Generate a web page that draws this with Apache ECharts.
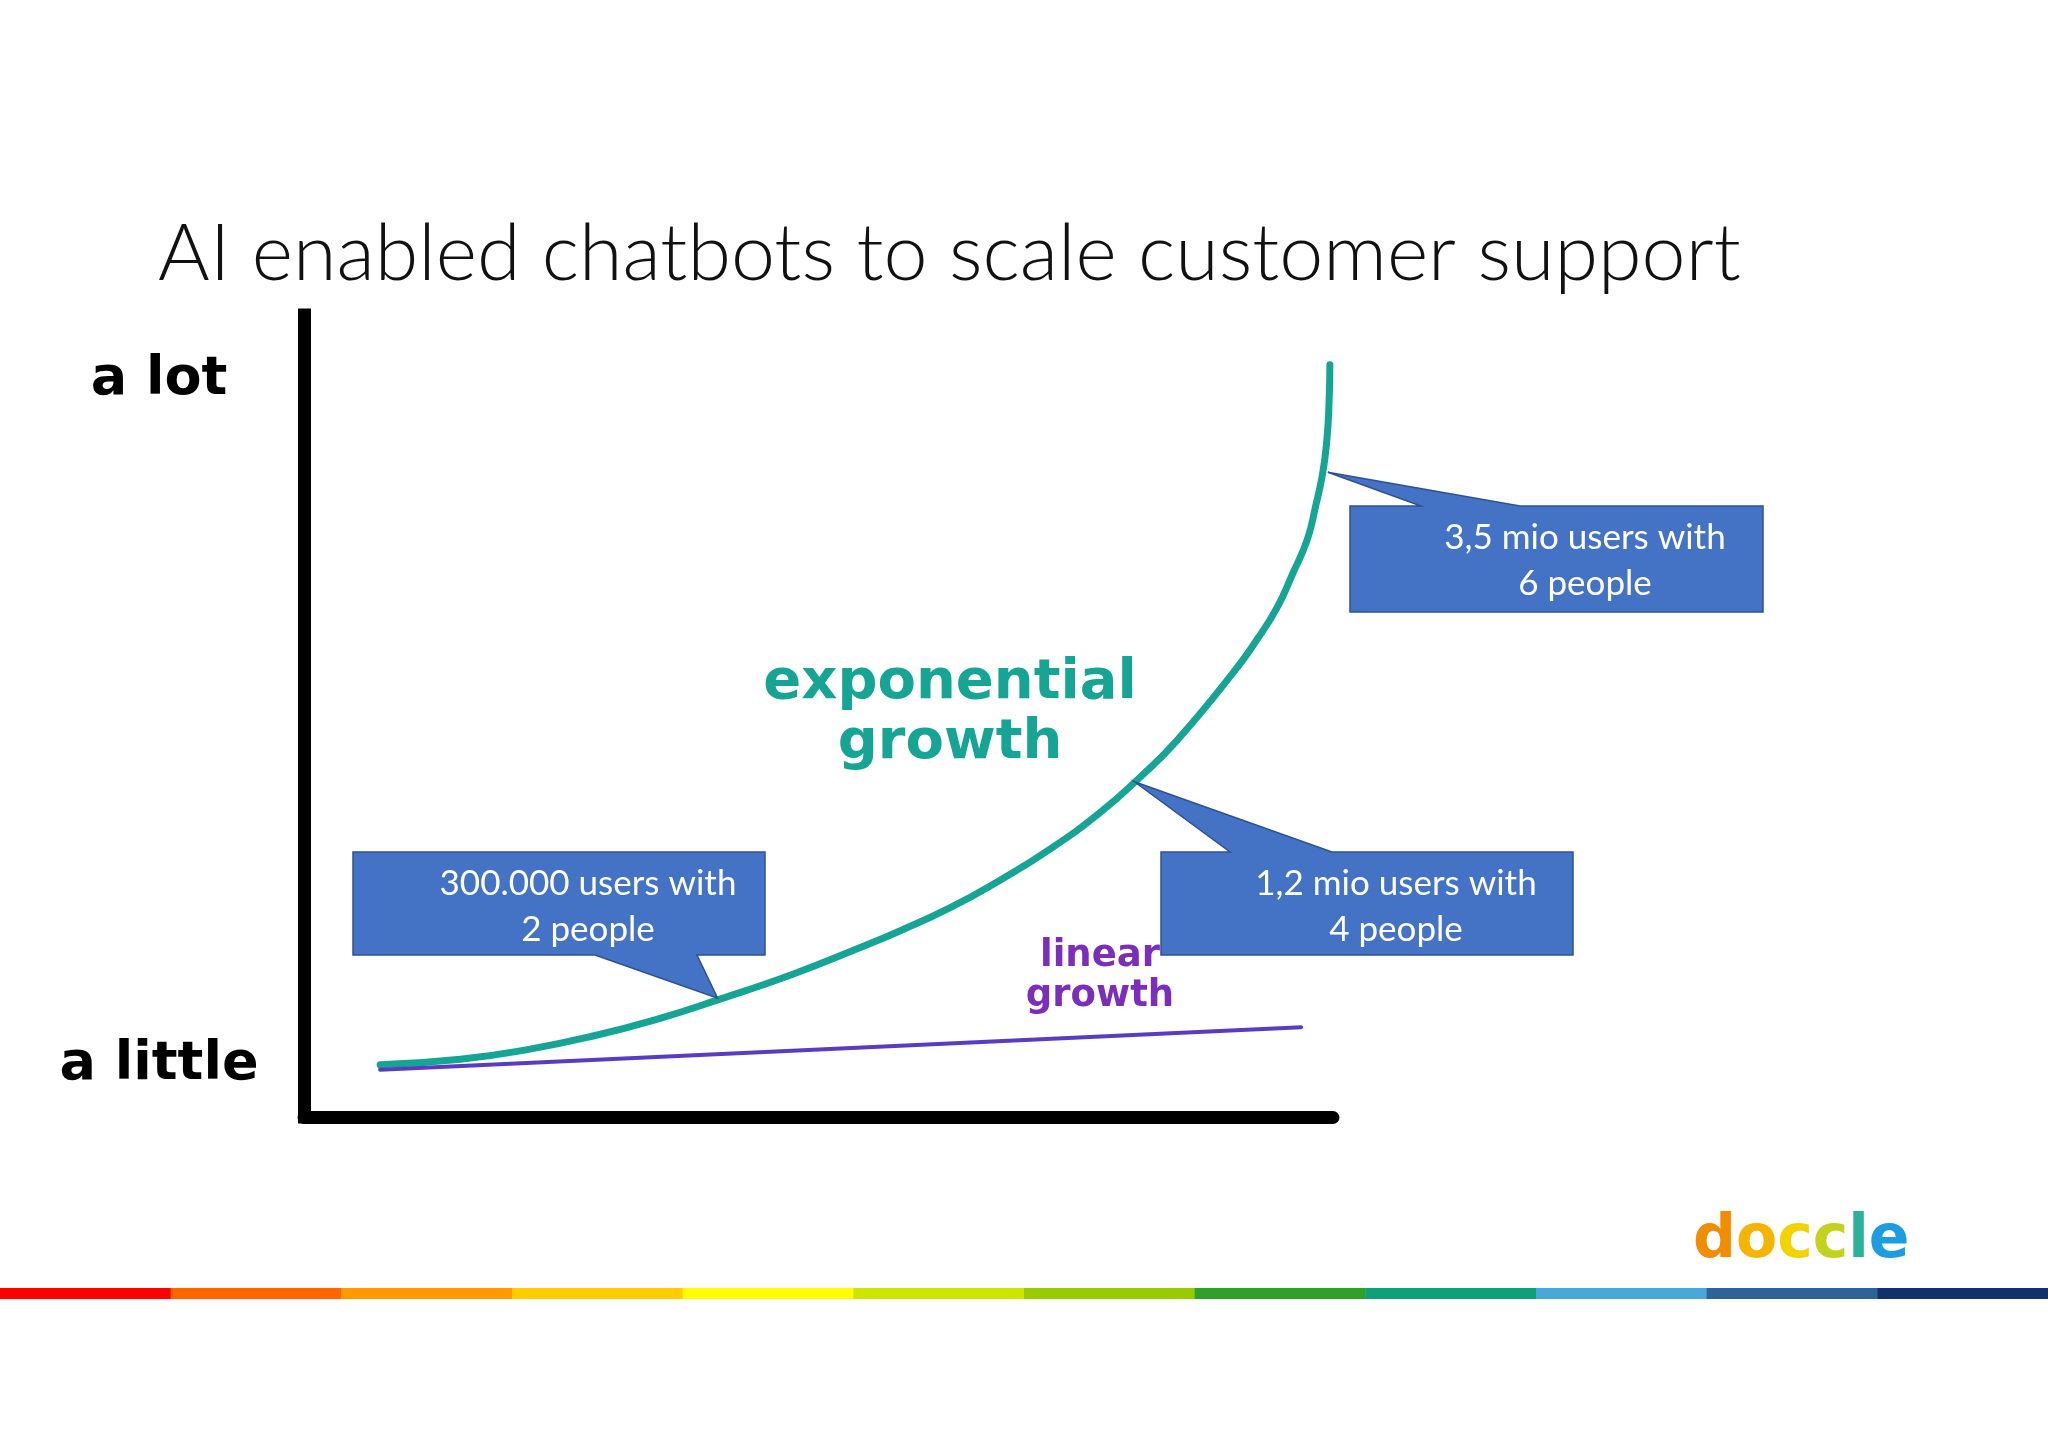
<!DOCTYPE html>
<html><head><meta charset="utf-8">
<script src="https://cdn.jsdelivr.net/npm/echarts@6/dist/echarts.min.js"></script>
<style>html,body{margin:0;padding:0;background:#fff}#c{width:2048px;height:1447px}</style>
</head><body><div id="c"></div>
<script>
// ---- data ----
const titleText = 'AI enabled chatbots to scale customer support';
const yTickValues = [6.5, 91.9];
const yTickLabels = ['a little', 'a lot'];
const seriesNames = ['exponential growth', 'linear growth'];
const expX = [7.4, 15.2, 21.7, 28.1, 34.6, 40.2, 47.5, 54.0, 57.9, 62.8, 67.6, 72.5, 77.4, 81.2, 84.8, 90.3, 92.6, 94.6, 96.1, 97.5, 98.3, 99.0, 99.4, 99.6, 99.7];
const expY = [6.5, 7.2, 8.4, 10.1, 12.3, 14.6, 17.8, 21.1, 23.2, 26.1, 29.5, 33.4, 38.0, 42.3, 46.9, 55.4, 59.5, 63.6, 67.8, 72.0, 76.1, 80.3, 84.4, 88.5, 93.8];
const linX = [7.4, 96.9];
const linY = [5.9, 11.2];
const calloutTexts = ['300.000 users with\n2 people', '1,2 mio users with\n4 people', '3,5 mio users with\n6 people'];
const calloutTipX = [40.2, 80.7, 99.5];
const calloutTipY = [14.8, 41.8, 80.4];
const stripeColors = ['#FF0000', '#FF6600', '#FF9900', '#FFCC00', '#FFFF00', '#CCE600', '#99CC00', '#30A02A', '#0FA07A', '#4AA8D8', '#2E6399', '#14306A'];
const logoLetters = ['d', 'o', 'c', 'c', 'l', 'e'];
const logoColors = ['#F28C00', '#F5B400', '#F2D200', '#C4D21E', '#2FB09A', '#1E9CE0'];

// ---- chart ----
const chart = echarts.init(document.getElementById('c'), null, {renderer: 'canvas'});
const TEAL = '#16A594', PURPLE_LINE = '#5B3BBF', PURPLE_TEXT = '#7A2EB9';

chart.setOption({
  animation: false,
  backgroundColor: '#ffffff',
  grid: {left: 304, top: 315, width: 1029, height: 802},
  xAxis: {
    type: 'value', min: 0, max: 100,
    axisLine: {show: true, onZero: false, lineStyle: {color: '#000', width: 13}},
    axisTick: {show: false}, axisLabel: {show: false}, splitLine: {show: false}
  },
  yAxis: {
    type: 'value', min: 0, max: 100,
    axisLine: {show: true, lineStyle: {color: '#000', width: 13, cap: 'square'}},
    axisTick: {show: false}, splitLine: {show: false},
    axisLabel: {
      customValues: yTickValues,
      formatter: v => { const i = yTickValues.findIndex(t => Math.abs(t - v) < 1e-6); return i >= 0 ? yTickLabels[i] : ''; },
      align: 'center', margin: 145,
      fontFamily: 'DejaVu Sans', fontWeight: 'bold', fontSize: 54, color: '#000'
    }
  },
  series: [
    {name: seriesNames[0], type: 'line', smooth: 0.5, showSymbol: false, clip: false,
     lineStyle: {color: TEAL, width: 7, cap: 'round'},
     data: expX.map((x, i) => [x, expY[i]])},
    {name: seriesNames[1], type: 'line', showSymbol: false, clip: false,
     lineStyle: {color: PURPLE_LINE, width: 4, cap: 'round'},
     data: linX.map((x, i) => [x, linY[i]])}
  ]
});

// ---- annotations (layout) ----
const boxes = [
  {L: 353, R: 765, T: 852, B: 955, side: 'bottom', b0: 595, b1: 697},
  {L: 1161, R: 1573, T: 852, B: 955, side: 'top', b0: 1230, b1: 1332},
  {L: 1350, R: 1763, T: 506, B: 612, side: 'top', b0: 1421, b1: 1520}
];
const g = [];
g.push({type: 'text', x: 158, y: 255, z: 10,
  style: {text: titleText, font: '300 79px Lato', fill: '#111', align: 'left', verticalAlign: 'middle'}});
g.push({type: 'text', x: 950, y: 713, z: 10,
  style: {text: seriesNames[0].replace(' ', '\n'), font: 'bold 56px "DejaVu Sans"', lineHeight: 60, fill: TEAL, align: 'center', verticalAlign: 'middle'}});
g.push({type: 'text', x: 1100, y: 976, z: 10,
  style: {text: seriesNames[1].replace(' ', '\n'), font: 'bold 37px "DejaVu Sans"', lineHeight: 40, fill: PURPLE_TEXT, align: 'center', verticalAlign: 'middle'}});

boxes.forEach((b, i) => {
  const tip = chart.convertToPixel({gridIndex: 0}, [calloutTipX[i], calloutTipY[i]]);
  let pts;
  if (b.side === 'bottom') {
    pts = [[b.L, b.T], [b.R, b.T], [b.R, b.B], [b.b1, b.B], tip, [b.b0, b.B], [b.L, b.B]];
  } else {
    pts = [[b.L, b.T], [b.b0, b.T], tip, [b.b1, b.T], [b.R, b.T], [b.R, b.B], [b.L, b.B]];
  }
  g.push({type: 'polygon', z: 100, shape: {points: pts},
    style: {fill: '#4472C4', stroke: '#2F528F', lineWidth: 1.5}});
  g.push({type: 'text', z: 101, x: b.L + 235, y: b.T + 55,
    style: {text: calloutTexts[i], font: '35px Lato', lineHeight: 46, fill: '#fff', align: 'center', verticalAlign: 'middle'}});
});

const segW = 2048 / stripeColors.length;
stripeColors.forEach((c, i) => {
  g.push({type: 'rect', z: 5, shape: {x: i * segW, y: 1288, width: segW + 0.5, height: 11}, style: {fill: c}});
});
const rich = {};
logoLetters.forEach((l, i) => { rich['k' + i] = {fill: logoColors[i], font: 'bold 60px "DejaVu Sans"'}; });
g.push({type: 'text', x: 1693, y: 1241, z: 10,
  style: {text: logoLetters.map((l, i) => '{k' + i + '|' + l + '}').join(''), rich: rich,
    font: 'bold 60px "DejaVu Sans"', align: 'left', verticalAlign: 'middle'}});

chart.setOption({graphic: g});
</script></body></html>
